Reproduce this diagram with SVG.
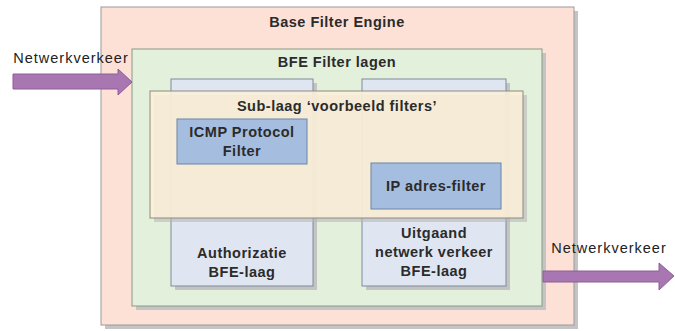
<svg xmlns="http://www.w3.org/2000/svg" width="675" height="331" viewBox="0 0 675 331">
<defs>
<style>
text{font-family:"Liberation Sans",Arial,sans-serif;font-weight:bold;font-size:14.5px;letter-spacing:0.5px;fill:#2b2b2b;text-anchor:middle}
.nv{font-weight:normal;font-size:14.5px;letter-spacing:1px;fill:#222}
.sh{fill:#c4c4c4}
.lay{fill:#dfe6f2;stroke:#7f8a99;stroke-width:1}
.flt{fill:#a5bee0;stroke:#6d85a8;stroke-width:1}
.arr{fill:#a877b2;stroke:#8e5f98;stroke-width:1}
</style>
</defs>
<g id="base">
<rect class="sh" x="105" y="11" width="473" height="318"/>
<rect x="101" y="7" width="473" height="318" fill="#fde1d7" stroke="#9a9a9a"/>
<text x="337" y="27">Base Filter Engine</text>
</g>
<g id="bfe">
<rect class="sh" x="136" y="53" width="410" height="257"/>
<rect x="132" y="49" width="410" height="257" fill="#e3f0dc" stroke="#8a9a86"/>
<text x="337" y="67">BFE Filter lagen</text>
</g>
<g id="auth">
<rect class="sh" x="175" y="83" width="142" height="207"/>
<rect class="lay" x="171" y="79" width="142" height="207"/>
<text x="242" y="258">Authorizatie</text>
<text x="242" y="277">BFE-laag</text>
</g>
<g id="uitgaand">
<rect class="sh" x="366" y="83" width="144" height="207"/>
<rect class="lay" x="362" y="79" width="144" height="207"/>
<text x="434" y="238">Uitgaand</text>
<text x="434" y="257">netwerk verkeer</text>
<text x="434" y="276">BFE-laag</text>
</g>
<g id="sublaag">
<rect x="154" y="95" width="373" height="127" fill="#b8b8b8" opacity="0.6"/>
<rect x="150" y="91" width="373" height="127" fill="#fcefd8" fill-opacity="0.88" stroke="#8f8a80"/>
<text x="337" y="111">Sub-laag ‘voorbeeld filters’</text>
</g>
<g id="icmp">
<rect class="flt" x="177" y="119" width="130" height="45"/>
<text x="242" y="137">ICMP Protocol</text>
<text x="242" y="156">Filter</text>
</g>
<g id="ip">
<rect class="flt" x="371" y="163" width="130" height="46"/>
<text x="436" y="191">IP adres-filter</text>
</g>
<g id="connectors">
<polygon class="arr" points="13,74 118,74 118,69 132,82 118,95 118,89 13,89"/>
<polygon class="arr" points="543,271 659,271 659,263 674,276 659,290 659,282 543,282"/>
<text class="nv" x="71" y="63">Netwerkverkeer</text>
<text class="nv" x="609" y="253">Netwerkverkeer</text>
</g>
</svg>
